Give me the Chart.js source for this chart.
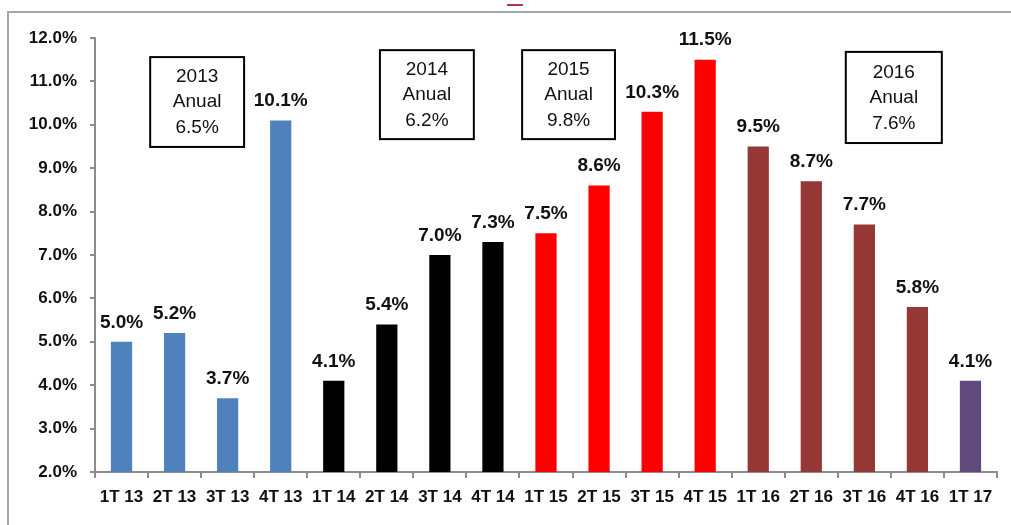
<!DOCTYPE html>
<html>
<head>
<meta charset="utf-8">
<script src="https://cdn.jsdelivr.net/npm/chart.js@4.4.1/dist/chart.umd.min.js"></script>
<style>
  html, body { margin: 0; background: #fff; overflow: hidden; }
  #wrap { width: 1011px; height: 525px; position: relative; overflow: hidden; background: #fff; }
  #frame {
    position: absolute; left: 7px; top: 11px; width: 1004px; height: 514px;
    border-top: 2px solid #a6a6a6; border-left: 2px solid #a6a6a6;
    box-sizing: border-box; pointer-events: none;
  }
  #mark {
    position: absolute; left: 507px; top: 4px; width: 16px; height: 2px;
    background: #b03060;
  }
</style>
</head>
<body>
<div id="wrap">
  <canvas id="chart"></canvas>
  <div id="frame"></div>
  <div id="mark"></div>
</div>
<script>
// ---------- Data ----------
const quarters = ["1T 13", "2T 13", "3T 13", "4T 13", "1T 14", "2T 14", "3T 14", "4T 14",
  "1T 15", "2T 15", "3T 15", "4T 15", "1T 16", "2T 16", "3T 16", "4T 16", "1T 17"];
const growth = [5.0, 5.2, 3.7, 10.1, 4.1, 5.4, 7.0, 7.3, 7.5, 8.6, 10.3, 11.5, 9.5, 8.7, 7.7, 5.8, 4.1];
const barColors = [
  "#4f81bd", "#4f81bd", "#4f81bd", "#4f81bd",
  "#000000", "#000000", "#000000", "#000000",
  "#ff0000", "#ff0000", "#ff0000", "#ff0000",
  "#953735", "#953735", "#953735", "#953735",
  "#604a7b"
];

// yearly summary boxes (year, annual value) and their place in data units
const boxYears = ["2013", "2014", "2015", "2016"];
const boxAnnual = ["6.5%", "6.2%", "9.8%", "7.6%"];
const boxLeft = [0.54, 4.87, 7.55, 13.65];
const boxRight = [2.31, 6.64, 9.30, 15.46];
const boxTop = [11.56, 11.72, 11.72, 11.68];
const boxBottom = [9.49, 9.67, 9.67, 9.58];

const textColor = "#111111";
const axisColor = "#8c8c8c";
const fontFamily = "'Liberation Sans', Arial, sans-serif";

// ---------- Plugins ----------
const valueLabels = {
  id: "valueLabels",
  afterDatasetsDraw(chart) {
    const ctx = chart.ctx;
    const meta = chart.getDatasetMeta(0);
    ctx.save();
    ctx.font = "bold 19px " + fontFamily;
    ctx.fillStyle = textColor;
    ctx.textAlign = "center";
    ctx.textBaseline = "bottom";
    meta.data.forEach((bar, i) => {
      ctx.fillText(growth[i].toFixed(1) + "%", bar.x, bar.y - 10);
    });
    ctx.restore();
  }
};

const yearBoxes = {
  id: "yearBoxes",
  afterDatasetsDraw(chart) {
    const ctx = chart.ctx;
    const xs = chart.scales.x;
    const ys = chart.scales.y;
    ctx.save();
    boxYears.forEach((year, i) => {
      const x1 = xs.getPixelForValue(boxLeft[i]);
      const x2 = xs.getPixelForValue(boxRight[i]);
      const y1 = ys.getPixelForValue(boxTop[i]);
      const y2 = ys.getPixelForValue(boxBottom[i]);
      ctx.fillStyle = "#ffffff";
      ctx.fillRect(x1, y1, x2 - x1, y2 - y1);
      ctx.strokeStyle = "#000000";
      ctx.lineWidth = 2;
      ctx.strokeRect(x1, y1, x2 - x1, y2 - y1);
      ctx.fillStyle = textColor;
      ctx.font = "19px " + fontFamily;
      ctx.textAlign = "center";
      ctx.textBaseline = "middle";
      const cx = (x1 + x2) / 2;
      const cy = (y1 + y2) / 2;
      ctx.fillText(year, cx, cy - 25);
      ctx.fillText("Anual", cx, cy);
      ctx.fillText(boxAnnual[i], cx, cy + 26);
    });
    ctx.restore();
  }
};

// ---------- Chart ----------
new Chart(document.getElementById("chart"), {
  type: "bar",
  data: {
    labels: quarters,
    datasets: [{
      data: growth,
      backgroundColor: barColors,
      barPercentage: 0.4,
      categoryPercentage: 1.0
    }]
  },
  options: {
    responsive: true,
    maintainAspectRatio: false,
    animation: false,
    layout: { padding: { left: 0, right: 14, top: 38, bottom: 0 } },
    plugins: {
      legend: { display: false },
      tooltip: { enabled: false }
    },
    scales: {
      x: {
        offset: true,
        afterFit(scale) { scale.height = 53; },
        grid: {
          offset: true,
          drawOnChartArea: false,
          drawTicks: true,
          tickLength: 6,
          color: axisColor,
          lineWidth: 2
        },
        border: { display: true, color: axisColor, width: 2 },
        ticks: {
          color: textColor,
          padding: 9,
          maxRotation: 0,
          autoSkip: false,
          font: { family: fontFamily, size: 17, weight: "bold" }
        }
      },
      y: {
        min: 2,
        max: 12,
        afterFit(scale) { scale.width = 95; },
        grid: {
          drawOnChartArea: false,
          drawTicks: true,
          tickLength: 5,
          color: axisColor,
          lineWidth: 2
        },
        border: { display: true, color: axisColor, width: 2 },
        ticks: {
          stepSize: 1,
          color: textColor,
          padding: 13,
          font: { family: fontFamily, size: 17, weight: "bold" },
          callback: (v) => v.toFixed(1) + "%"
        }
      }
    }
  },
  plugins: [valueLabels, yearBoxes]
});
</script>
</body>
</html>
